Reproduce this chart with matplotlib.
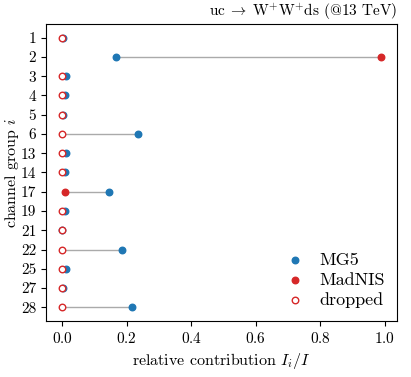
import matplotlib

matplotlib.use("Agg")

import matplotlib.pyplot as plt
import numpy as np

# ========================
# data
# ========================
groups = ["1", "2", "3", "4", "5", "6", "13", "14", "17", "19", "21", "22", "25", "27", "28"]
mg5 = [0.003, 0.168, 0.012, 0.010, 0.002, 0.235, 0.012, 0.010, 0.147, 0.010, 0.001, 0.186, 0.012, 0.003, 0.216]
madnis = [0.0, 0.988, 0.0, 0.0, 0.0, 0.0, 0.0, 0.0, 0.009, 0.0, 0.0, 0.0, 0.0, 0.0, 0.0]
dropped = [True, False, True, True, True, True, True, True, False, True, True, True, True, True, True]

BLUE = "#1f77b4"
RED = "#d62728"

plt.rcParams["font.family"] = ["cmr10", "DejaVu Serif"]
plt.rcParams["mathtext.fontset"] = "cm"
plt.rcParams["axes.formatter.use_mathtext"] = True

fig, ax = plt.subplots(figsize=(4.11, 3.77), dpi=100)
fig.subplots_adjust(left=0.112, right=0.966, top=0.936, bottom=0.149)

y = np.arange(len(groups))
mg5 = np.array(mg5)
madnis = np.array(madnis)
dropped = np.array(dropped)

ax.hlines(y, mg5, madnis, color="#aaaaaa", linewidth=1.0, zorder=1)
ax.scatter(mg5, y, s=22, color=BLUE, zorder=2, label="MG5")
ax.scatter(madnis[~dropped], y[~dropped], s=22, color=RED, zorder=3, label="MadNIS")
ax.scatter(madnis[dropped], y[dropped], s=22, facecolor="white", edgecolor=RED,
           linewidth=1.0, zorder=4, label="dropped")

ax.set_yticks(y)
ax.set_yticklabels(groups)
ax.invert_yaxis()
ax.tick_params(labelsize=11)
ax.set_xlabel(r"relative contribution $I_i/I$", fontsize=11.5)
ax.set_ylabel(r"channel group $i$", fontsize=11.5)
ax.yaxis.set_label_coords(-0.07, 0.5)
ax.set_title(r"$\mathrm{uc}\;\to\;\mathrm{W}^{+}\mathrm{W}^{+}\mathrm{ds}$ (@13 TeV)",
             loc="right", fontsize=11)
ax.legend(loc="lower right", frameon=False, fontsize=13, handletextpad=0.3,
          labelspacing=0.25, borderaxespad=0.3)

fig.savefig("out.png", dpi=100)
